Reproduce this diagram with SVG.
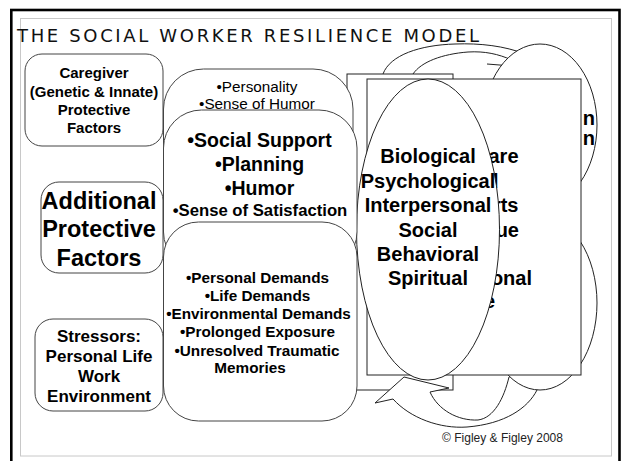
<svg xmlns="http://www.w3.org/2000/svg" width="621" height="461" viewBox="0 0 621 461">
<style>
.t{font-family:"Liberation Sans",Arial,sans-serif;font-weight:bold;fill:#000;text-anchor:middle}
.r{font-family:"Liberation Sans",Arial,sans-serif;font-weight:normal;fill:#000;text-anchor:middle}
.box{fill:#fff;stroke:#444;stroke-width:1}
.shp{fill:#fff;stroke:#222;stroke-width:1}
.ln{fill:none;stroke:#222;stroke-width:1}
.frag{font-family:"Liberation Sans",Arial,sans-serif;font-weight:bold;fill:#000;text-anchor:end;font-size:20px}
</style>
<rect x="0" y="0" width="621" height="461" fill="#fff"/>
<rect x="11.3" y="10" width="608.2" height="460" fill="none" stroke="#000" stroke-width="2.6"/>
<rect x="20.5" y="18.5" width="591" height="437.5" fill="none" stroke="#c8c8c8" stroke-width="1"/>
<text x="17" y="42" font-family="DejaVu Sans,Verdana,sans-serif" font-size="18" fill="#111" textLength="462" lengthAdjust="spacing">THE SOCIAL WORKER RESILIENCE MODEL</text>

<g id="back-rect">
<rect class="shp" x="347" y="74" width="106" height="316"/>
</g>

<g id="connectors">
<path class="ln" d="M383,74 C390,55 420,45 455,44 C480,43 505,46 525,54"/>
<path class="ln" d="M413,74 C421,62 442,54 468,52 C485,51 498,54 512,60"/>
<path class="ln" d="M487,64 L512,66"/>
<path class="shp" d="M375,403 L404,377 L449,388 L430,392 C438,410 458,421 478,420 C494,418 504,398 509,377 L545,360 L537,390 C528,408 505,424 467,427 C440,429 410,418 393,399 Z"/>
</g>

<g id="top-cloud">
<ellipse class="shp" cx="540" cy="125" rx="57" ry="81"/>
<text class="frag" x="595" y="125">n</text>
<text class="frag" x="595" y="145">n</text>
</g>
<g id="bottom-cloud">
<ellipse class="shp" cx="540" cy="303" rx="57" ry="87"/>
</g>

<g id="outcome-rect">
<rect class="shp" x="367" y="79" width="214" height="296"/>
<text class="frag" x="518.5" y="163">are</text>
<text class="frag" x="498.5" y="187.5">l</text>
<text class="frag" x="518.5" y="212">rts</text>
<text class="frag" x="519" y="236.5">ue</text>
<text class="frag" x="532" y="285">onal</text>
<text class="frag" x="495" y="308">e</text>
</g>

<g id="bio-oval">
<ellipse class="shp" cx="428" cy="229.5" rx="71.5" ry="150.5"/>
<g class="t" font-size="20">
<text x="428" y="163">Biological</text>
<text x="428" y="187.5">Psychological</text>
<text x="428" y="212">Interpersonal</text>
<text x="428" y="236.5">Social</text>
<text x="428" y="261">Behavioral</text>
<text x="428" y="285">Spiritual</text>
</g>
</g>

<g id="personality-box">
<rect class="box" x="163.5" y="69" width="189.5" height="130" rx="40"/>
<g class="r" font-size="15.3">
<text x="257" y="92">•Personality</text>
<text x="257" y="109">•Sense of Humor</text>
</g>
</g>

<g id="support-box">
<rect class="box" x="163.5" y="110" width="193.5" height="160" rx="38"/>
<g class="t">
<text x="259.5" y="146.5" font-size="19.5">•Social Support</text>
<text x="259.5" y="170.5" font-size="19.5">•Planning</text>
<text x="259.5" y="195" font-size="19.5">•Humor</text>
<text x="260" y="216" font-size="16.7">•Sense of Satisfaction</text>
</g>
</g>

<g id="demands-box">
<rect class="box" x="163.5" y="222" width="193.5" height="199" rx="35"/>
<g class="t" font-size="15.3">
<text x="257.5" y="282.7">•Personal Demands</text>
<text x="257.5" y="301">•Life Demands</text>
<text x="258.5" y="319">•Environmental Demands</text>
<text x="257.5" y="337.3">•Prolonged Exposure</text>
<text x="257" y="355.7">•Unresolved Traumatic</text>
<text x="250" y="373.3">Memories</text>
</g>
</g>

<g id="caregiver-box">
<rect class="box" x="25" y="54" width="138" height="92" rx="17"/>
<g class="t" font-size="15">
<text x="94" y="78.3">Caregiver</text>
<text x="94" y="96.7">(Genetic &amp; Innate)</text>
<text x="94" y="115">Protective</text>
<text x="94" y="133.3">Factors</text>
</g>
</g>

<g id="additional-box">
<rect class="box" x="41" y="182" width="122" height="91" rx="18"/>
<g class="t" font-size="23.5">
<text x="99" y="208.5">Additional</text>
<text x="99" y="237">Protective</text>
<text x="99" y="265.5">Factors</text>
</g>
</g>

<g id="stressors-box">
<rect class="box" x="35" y="319" width="128" height="92" rx="18"/>
<g class="t" font-size="17">
<text x="99" y="341.5">Stressors:</text>
<text x="99" y="361.5">Personal Life</text>
<text x="99" y="381.5">Work</text>
<text x="99" y="401.5">Environment</text>
</g>
</g>

<text x="502.5" y="442" font-family="Liberation Sans,Arial,sans-serif" font-size="12" fill="#222" text-anchor="middle">© Figley &amp; Figley 2008</text>
</svg>
